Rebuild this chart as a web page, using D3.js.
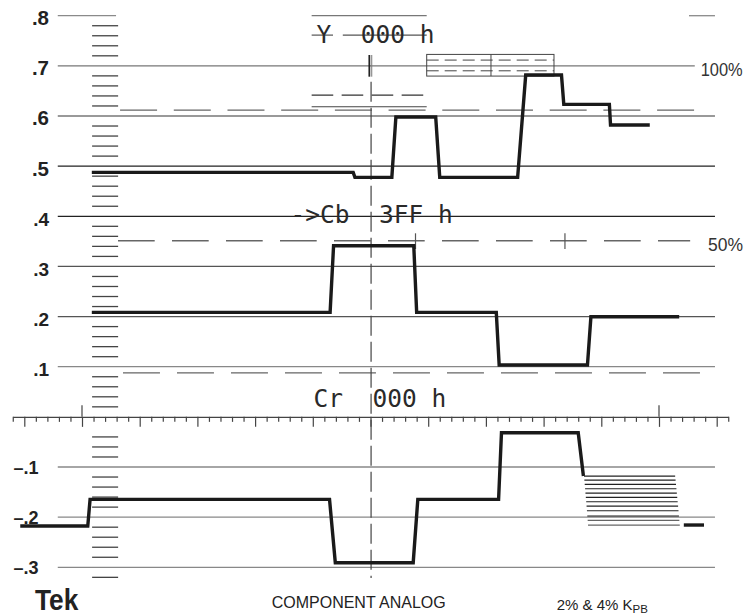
<!DOCTYPE html>
<html><head><meta charset="utf-8">
<script src="https://cdn.jsdelivr.net/npm/d3@7"></script>
<style>body{margin:0;background:#fff}svg{display:block}text{white-space:pre}</style>
</head><body>
<svg id="c" width="750" height="616"></svg>
<script>
// ---------- data (x in graticule divisions, y in volts) ----------
const gridLevels = [0.8, 0.7, 0.6, 0.5, 0.4, 0.3, 0.2, 0.1, -0.1, -0.2, -0.3];
const gridLabels = [".8", ".7", ".6", ".5", ".4", ".3", ".2", ".1", "–.1", "–.2", "–.3"];
const refDashed = [0.6118, 0.3512, 0.0879];
const yTrace = [[1.17,0.4875],[5.70,0.4875],[5.73,0.4776],[6.37,0.4776],[6.44,0.598],[7.13,0.598],[7.20,0.4776],[8.55,0.4776],[8.69,0.6816],[9.31,0.6816],[9.35,0.6231],[10.14,0.6231],[10.16,0.5819],[10.84,0.5819]];
const cbTrace = [[1.17,0.2084],[5.30,0.2084],[5.36,0.3412],[6.75,0.3412],[6.80,0.2084],[8.18,0.2084],[8.23,0.1033],[9.76,0.1033],[9.82,0.1996],[11.35,0.1996]];
const crTrace = [[-0.07,-0.2177],[1.10,-0.2177],[1.14,-0.1645],[5.29,-0.1645],[5.39,-0.2909],[6.74,-0.2909],[6.82,-0.1645],[8.22,-0.1645],[8.27,-0.0317],[9.60,-0.0317],[9.69,-0.118]];
const crTail = [[11.43,-0.2157],[11.78,-0.2157]];
const hatchLevels = [-0.118,-0.126,-0.1346,-0.1434,-0.152,-0.1605,-0.1693,-0.1779,-0.1872,-0.1978,-0.2064,-0.2157];
const readouts = [
  {text:"Y  000 h", x:316.5, y:43.3},
  {text:"->Cb  3FF h", x:290.5, y:223.3},
  {text:"Cr  000 h", x:313.5, y:406.7}
];

// ---------- scales ----------
const svg = d3.select("#c");
svg.append("rect").attr("width",750).attr("height",616).attr("fill","#fff");
const x = d3.scaleLinear().domain([-0.2, 12.2]).range([12.76, 728.24]);
const y = d3.scaleLinear().domain([-0.3, 0.8]).range([567.3, 15.7]);

const hl = (g, v, d0, d1, color, w, dash) => {
  const l = g.append("line").attr("x1", x(d0)).attr("x2", x(d1))
    .attr("y1", y(v)).attr("y2", y(v)).attr("stroke", color).attr("stroke-width", w);
  if (dash) l.attr("stroke-dasharray", dash);
  return l;
};
const vl = (g, d, y0, y1, color, w, dash) => {
  const l = g.append("line").attr("x1", x(d)).attr("x2", x(d))
    .attr("y1", y0).attr("y2", y1).attr("stroke", color).attr("stroke-width", w);
  if (dash) l.attr("stroke-dasharray", dash);
  return l;
};

// ---------- graticule ----------
const grat = svg.append("g");
const gridColor = {"0.8":"#8a8a8a","0.7":"#777","0.6":"#777","0.5":"#222","0.4":"#222","0.3":"#555","0.2":"#555","0.1":"#888"};
gridLevels.forEach(v => {
  const c = gridColor[String(v)] || "#888";
  if (v === 0.8) { hl(grat, v, 0.58, 1.59, c, 1.3); hl(grat, v, 11.52, 11.97, c, 1.3); }
  else if (v === 0.7) hl(grat, v, 0.58, 11.62, c, 1.3);
  else hl(grat, v, 0.58, 11.97, c, 1.3);
});

// ladder ticks
const ladder = d3.range(78, -33, -2).filter(k => k % 10 !== 0 && k !== -2).map(k => k / 100);
ladder.forEach(v => hl(grat, v, 1.175, 1.626, "#444", 1.3));

// dashed reference lines
hl(grat, refDashed[0], 1.66, 11.61, "#666", 1.3, "37,16.7");
hl(grat, refDashed[1], 1.624, 11.54, "#666", 1.3, "36.7,17.3");
hl(grat, refDashed[2], 1.71, 11.71, "#666", 1.3, "37,17");
// cross marks on 50% line
[6.78, 9.37].forEach(d => vl(grat, d, 233.3, 249, "#555", 1.2));

// top annotation lines
hl(grat, 0.8, 4.98, 6.974, "#777", 1.3);
hl(grat, 0.7613, 4.98, 5.35, "#555", 1.2);
hl(grat, 0.7613, 5.52, 6.974, "#555", 1.2);
hl(grat, 0.6417, 4.98, 6.974, "#333", 1.1, "21.6,8.4");
hl(grat, 0.6183, 4.98, 6.974, "#444", 1.1);

// box
const bx0 = 6.974, bx1 = 9.18;
grat.append("rect").attr("x", x(bx0)).attr("y", y(0.7228))
  .attr("width", x(bx1) - x(bx0)).attr("height", y(0.6796) - y(0.7228))
  .attr("fill", "none").attr("stroke", "#444").attr("stroke-width", 1);
hl(grat, 0.7115, bx0, bx1, "#444", 1, "12,6");
hl(grat, 0.6901, bx0, bx1, "#444", 1, "12,6");
vl(grat, 8.088, y(0.7228), y(0.6796), "#444", 1);

// center marker & dashed center line
vl(grat, 5.98, 55, 76.7, "#222", 1.8);
grat.append("line").attr("x1", x(5.98) + 2.4).attr("x2", x(5.98) + 2.4)
  .attr("y1", 55).attr("y2", 76.7).attr("stroke", "#777").attr("stroke-width", 1);
vl(grat, 6.01, 81.7, 578, "#444", 1.2, "20,6");

// axis
const minor = d3.range(-1, 62).map(k => k / 5).filter(d => Math.abs(d - Math.round(d)) > 0.01);
const ax1 = svg.append("g").attr("transform", `translate(0,${y(0)})`)
  .call(d3.axisBottom(x).tickValues(minor).tickSize(5).tickSizeOuter(0).tickFormat(""));
const ax2 = svg.append("g").attr("transform", `translate(0,${y(0)})`)
  .call(d3.axisBottom(x).tickValues(d3.range(0, 13)).tickSize(10).tickSizeOuter(0).tickFormat(""));
ax2.select(".domain").remove();
[ax1, ax2].forEach(a => { a.selectAll("path,line").attr("stroke", "#444").attr("stroke-width", 1.2); });
[1, 11].forEach(d => vl(svg, d, y(0) - 11.5, y(0), "#444", 1.2));

// ---------- y labels ----------
gridLevels.forEach((v, i) => {
  const neg = v < 0;
  const size = v >= 0.5 ? 20.5 : (neg ? 18 : 19);
  const off = v >= 0.5 ? 9.5 : (neg ? 7 : 9.5);
  svg.append("text").attr("x", neg ? 13.5 : 49).attr("y", y(v) + off)
    .attr("text-anchor", neg ? "start" : "end")
    .attr("font-family", "Liberation Sans, Arial, sans-serif").attr("font-weight", "bold")
    .attr("font-size", size).attr("fill", "#222").text(gridLabels[i]);
});

// ---------- traces ----------
const line = d3.line().x(d => x(d[0])).y(d => y(d[1]));
[yTrace, cbTrace, crTrace, crTail].forEach(t => {
  svg.append("path").attr("d", line(t)).attr("fill", "none")
    .attr("stroke", "#1a1a1a").attr("stroke-width", 3.4).attr("stroke-linejoin", "miter");
});
// hatch
hatchLevels.forEach((v, i) => {
  const f = i / (hatchLevels.length - 1);
  svg.append("line").attr("x1", x(9.70 + 0.07 * f)).attr("x2", x(11.28 + 0.08 * f))
    .attr("y1", y(v)).attr("y2", y(v))
    .attr("stroke", i < 9 ? "#222" : "#666").attr("stroke-width", i === 9 ? 1.8 : 1.2);
});

// ---------- readout text ----------
readouts.forEach(r => {
  svg.append("text").attr("x", r.x).attr("y", r.y)
    .attr("font-family", "DejaVu Sans Mono, monospace").attr("font-size", 24.5)
    .attr("fill", "#2a2a2a").text(r.text);
});

// right labels
svg.append("text").attr("x", 700.7).attr("y", 76).attr("font-family", "Liberation Sans, Arial, sans-serif")
  .attr("font-size", 19).attr("fill", "#333").attr("textLength", 42).attr("lengthAdjust", "spacingAndGlyphs").text("100%");
svg.append("text").attr("x", 708).attr("y", 251).attr("font-family", "Liberation Sans, Arial, sans-serif")
  .attr("font-size", 19).attr("fill", "#333").attr("textLength", 35).attr("lengthAdjust", "spacingAndGlyphs").text("50%");

// bottom text
svg.append("text").attr("x", 35).attr("y", 610).attr("font-family", "Liberation Sans, Arial, sans-serif")
  .attr("font-weight", "bold").attr("font-size", 29).attr("fill", "#222")
  .attr("textLength", 43.3).attr("lengthAdjust", "spacingAndGlyphs").text("Tek");
svg.append("text").attr("x", 271.7).attr("y", 608).attr("font-family", "Liberation Sans, Arial, sans-serif")
  .attr("font-size", 16).attr("fill", "#222").attr("textLength", 174).attr("lengthAdjust", "spacingAndGlyphs")
  .text("COMPONENT ANALOG");
const kt = svg.append("text").attr("x", 556.7).attr("y", 610).attr("font-family", "Liberation Sans, Arial, sans-serif")
  .attr("font-size", 15).attr("fill", "#222");
kt.append("tspan").text("2% & 4% K");
kt.append("tspan").attr("font-size", 11.5).attr("dy", 3).text("PB");
</script>
</body></html>
